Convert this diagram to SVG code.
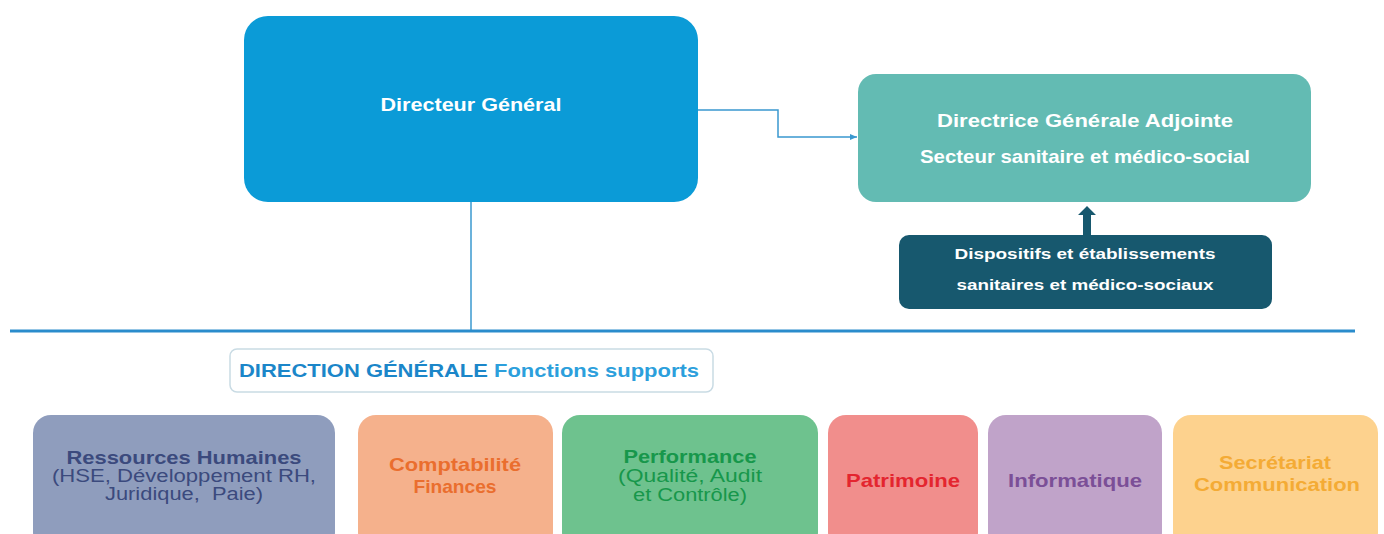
<svg xmlns="http://www.w3.org/2000/svg" width="1384" height="534" viewBox="0 0 1384 534">
<defs>
<style>
text{font-family:"Liberation Sans",Arial,sans-serif;text-anchor:middle}
.b{font-weight:bold}
.w{fill:#ffffff}
.conn{fill:none;stroke:#3a98cf;stroke-width:1.5}
</style>
<marker id="ah" markerWidth="8" markerHeight="8" refX="7" refY="4" orient="auto" markerUnits="userSpaceOnUse">
<path d="M0,1 L7,4 L0,7 Z" fill="#3a98cf"/>
</marker>
</defs>
<rect width="1384" height="534" fill="#ffffff"/>
<g id="connectors">
<path class="conn" d="M698,110 H778 V137 H857" marker-end="url(#ah)"/>
<path class="conn" d="M471,202 V331"/>
<line x1="10" y1="331" x2="1355" y2="331" stroke="#2a8ccc" stroke-width="3"/>
<path d="M1083,236 V215 H1078 L1087,206 L1096,215 H1091 V236 Z" fill="#17586e"/>
</g>
<g id="dg">
<rect x="244" y="16" width="454" height="186" rx="24" fill="#0b9bd7"/>
<text class="b w" x="471" y="111" font-size="19" textLength="181" lengthAdjust="spacingAndGlyphs">Directeur Général</text>
</g>
<g id="dga">
<rect x="858" y="74" width="453" height="128" rx="18" fill="#63bbb3"/>
<text class="b w" x="1085" y="127" font-size="19" textLength="296" lengthAdjust="spacingAndGlyphs">Directrice Générale Adjointe</text>
<text class="b w" x="1085" y="163" font-size="19" textLength="330" lengthAdjust="spacingAndGlyphs">Secteur sanitaire et médico-social</text>
</g>
<g id="dispositifs">
<rect x="899" y="235" width="373" height="74" rx="10" fill="#17586e"/>
<text class="b w" x="1085" y="259" font-size="15.5" textLength="261" lengthAdjust="spacingAndGlyphs">Dispositifs et établissements</text>
<text class="b w" x="1085" y="290" font-size="15.5" textLength="257" lengthAdjust="spacingAndGlyphs">sanitaires et médico-sociaux</text>
</g>
<g id="label">
<rect x="230" y="349" width="483" height="43" rx="7" fill="#ffffff" stroke="#c9dbe4" stroke-width="1.5"/>
<text class="b" x="469" y="377" font-size="19" textLength="460" lengthAdjust="spacingAndGlyphs"><tspan fill="#1b86c9">DIRECTION GÉNÉRALE</tspan><tspan fill="#2c9fdc"> Fonctions supports</tspan></text>
</g>
<g id="rh">
<rect x="33" y="415" width="302" height="135" rx="18" fill="#8f9dbd"/>
<text class="b" x="184" y="464" font-size="18.5" fill="#3b4a7d" textLength="235" lengthAdjust="spacingAndGlyphs">Ressources Humaines</text>
<text x="184" y="482" font-size="17.5" fill="#3b4a7d" textLength="264" lengthAdjust="spacingAndGlyphs">(HSE, Développement RH,</text>
<text x="184" y="500" font-size="17.5" fill="#3b4a7d" textLength="158" lengthAdjust="spacingAndGlyphs" xml:space="preserve">Juridique,  Paie)</text>
</g>
<g id="compta">
<rect x="358" y="415" width="195" height="135" rx="18" fill="#f5b18c"/>
<text class="b" x="455" y="471" font-size="18.5" fill="#ea6e2e" textLength="132" lengthAdjust="spacingAndGlyphs">Comptabilité</text>
<text class="b" x="455" y="493" font-size="18.5" fill="#ea6e2e" textLength="83" lengthAdjust="spacingAndGlyphs">Finances</text>
</g>
<g id="perf">
<rect x="562" y="415" width="256" height="135" rx="18" fill="#6ec28e"/>
<text class="b" x="690" y="463" font-size="18.5" fill="#17974b" textLength="133" lengthAdjust="spacingAndGlyphs">Performance</text>
<text x="690" y="482" font-size="17.5" fill="#17974b" textLength="144" lengthAdjust="spacingAndGlyphs">(Qualité, Audit</text>
<text x="690" y="501" font-size="17.5" fill="#17974b" textLength="114" lengthAdjust="spacingAndGlyphs">et Contrôle)</text>
</g>
<g id="patrimoine">
<rect x="828" y="415" width="150" height="135" rx="18" fill="#f18e8c"/>
<text class="b" x="903" y="487" font-size="18.5" fill="#e4252f" textLength="114" lengthAdjust="spacingAndGlyphs">Patrimoine</text>
</g>
<g id="informatique">
<rect x="988" y="415" width="174" height="135" rx="18" fill="#c0a3c9"/>
<text class="b" x="1075" y="487" font-size="18.5" fill="#7b4f97" textLength="134" lengthAdjust="spacingAndGlyphs">Informatique</text>
</g>
<g id="secretariat">
<rect x="1173" y="415" width="205" height="135" rx="18" fill="#fdd28e"/>
<text class="b" x="1275" y="469" font-size="18.5" fill="#f4ab35" textLength="112" lengthAdjust="spacingAndGlyphs">Secrétariat</text>
<text class="b" x="1277" y="491" font-size="18.5" fill="#f4ab35" textLength="166" lengthAdjust="spacingAndGlyphs">Communication</text>
</g>
</svg>
